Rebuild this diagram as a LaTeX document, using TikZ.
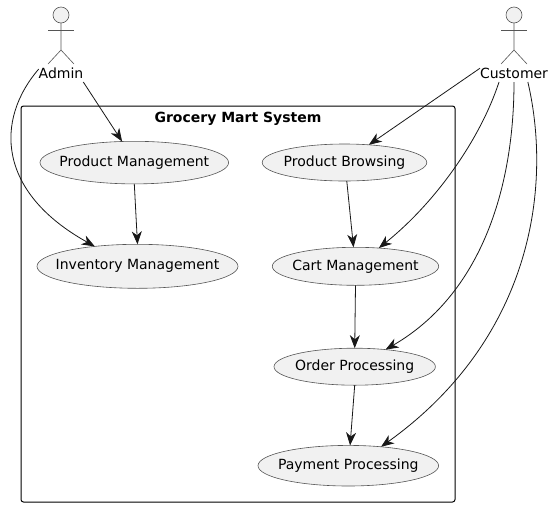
\documentclass[tikz,border=0pt]{standalone}
\usepackage{fontspec}
\setmainfont{DejaVu Sans}
\usetikzlibrary{arrows.meta,shapes.geometric}
\definecolor{umlfill}{HTML}{F1F1F1}
\definecolor{umlline}{HTML}{181818}
\definecolor{umlborder}{HTML}{555555}
\begin{document}
\begin{tikzpicture}[x=1pt,y=-1pt,
  font=\fontsize{14}{16}\selectfont,
  case node/.style={ellipse,draw=umlborder,fill=umlfill,line width=0.6pt,inner xsep=-30pt,inner ysep=-4pt,outer sep=0pt},
  actor head/.style={circle,draw=umlborder,fill=umlfill,line width=0.6pt,minimum size=16pt,inner sep=0pt,outer sep=0pt},
  actor line/.style={draw=umlborder,line width=0.6pt},
  actor label/.style={inner sep=0pt,outer sep=0pt,minimum height=18pt,text height=11pt,text depth=0pt},
  uses/.style={draw=umlline,line width=0.8pt,-{Stealth[length=13pt,width=10pt,inset=4pt]}}]
  \useasboundingbox (0,0) rectangle (554,507);

  \node[draw=black,line width=1pt,rounded corners=2.5pt,minimum width=434pt,minimum height=396pt,inner sep=0pt,outer sep=0pt] (system) at (238,304) {};
  \node[inner sep=0pt,font=\fontsize{14}{16}\selectfont\bfseries] (title) at (238,118.5) {Grocery Mart System};

  \node[case node,minimum width=188.6pt,minimum height=42.6pt] (prodmgmt) at (134.3,162.6) {Product Management};
  \node[case node,minimum width=201pt,minimum height=44pt] (invmgmt) at (137.5,266.3) {Inventory Management};
  \node[case node,minimum width=164.6pt,minimum height=37pt] (browsing) at (344.5,162.5) {Product Browsing};
  \node[case node,minimum width=166.4pt,minimum height=38pt] (cart) at (355.5,266.3) {Cart Management};
  \node[case node,minimum width=161.4pt,minimum height=37pt] (order) at (354.7,366.7) {Order Processing};
  \node[case node,minimum width=180.6pt,minimum height=40.6pt] (payment) at (348.3,465.7) {Payment Processing};

  % actors
  \node[actor head] (adminhead) at (61,15) {};
  \node[actor label] (admin) at (61,73) {Admin};
  \node[actor head] (customerhead) at (514,15) {};
  \node[actor label] (customer) at (514,73) {Customer};
  \foreach \who in {adminhead,customerhead} {
    \draw[actor line] (\who.south) -- ++(0,27) -- ++(-13,14);
    \draw[actor line] (\who.south) ++(0,27) -- ++(13,14);
    \draw[actor line] (\who.south) ++(-13,7) -- ++(26,0);
  }

  \path[every edge/.style={uses}]
   (admin.south east) edge (prodmgmt.120.6)
   (prodmgmt.south) edge (invmgmt.north)
   (browsing.-83) edge (cart.96.6)
   (cart.south) edge (order.north)
   (order.south) edge (payment.85)
   (customer.172) edge (browsing.36.3);

  \draw[uses] (admin.170) .. controls (-5,120) and (-3,192) .. (invmgmt.155.6);
  \draw[uses] (customer.211) .. controls (480,140) and (435,203) .. (cart.38.3);
  \draw[uses] (customer.south) .. controls (514,190) and (480,295) .. (order.29.9);
  \draw[uses] (customer.-33) .. controls (553,190) and (530,340) .. (payment.30.4);
\end{tikzpicture}
\end{document}
